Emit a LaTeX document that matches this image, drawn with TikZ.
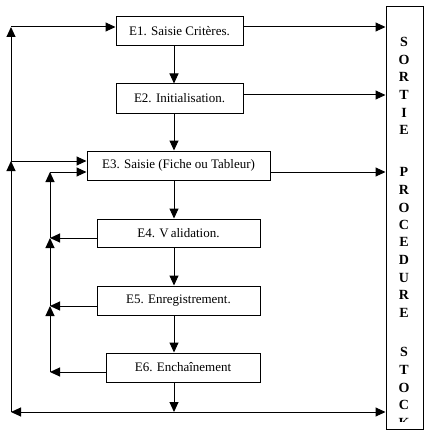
\documentclass[tikz,border=0pt]{standalone}
\usepackage{fontspec}
\setmainfont{Liberation Serif}
\usetikzlibrary{arrows.meta}
\begin{document}
\begin{tikzpicture}[x=1pt,y=-1pt, line width=1pt,
  >={Triangle[length=10pt,width=9pt]},
  box/.style={draw, minimum height=29pt, inner sep=0pt, font=\fontsize{13}{15}\selectfont},
  letter/.style={font=\bfseries\fontsize{14}{15}\selectfont, inner sep=0pt}]
\useasboundingbox (0,0) rectangle (441,441);
% boxes
\node[box, minimum width=127pt] (E1) at (179.5,31.5) {E1. Saisie Critères.};
\node[box, minimum width=127pt] (E2) at (179.5,98.5) {E2. Initialisation.};
\node[box, minimum width=183pt] (E3) at (178.5,165.5) {E3. Saisie (Fiche ou Tableur)};
\node[box, minimum width=163pt, minimum height=28pt] (E4) at (178.5,233) {E4. V\kern2pt alidation.};
\node[box, minimum width=163pt] (E5) at (178.5,300.5) {E5. Enregistrement.};
\node[box, minimum width=154pt] (E6) at (183,367.5) {E6. Enchaînement};
\node[draw, minimum width=37pt, minimum height=422pt, inner sep=0pt] (S) at (404.5,218) {};
% letters
\begin{scope}
\clip (386,7) rectangle (423,421.5);
\foreach \c/\y in {S/42,O/60,R/77,T/95,I/113,E/130,P/172,R/190,O/208,C/225,E/242,D/260,U/278,R/295,E/313,S/352,T/370,O/388,C/405,K/423}
  \node[letter] (l\y) at (404,\y) {\c};
\end{scope}
% coordinates
\coordinate (ax) at (174,0);
\coordinate (r1) at (0,27);
\coordinate (r2) at (0,95);
\coordinate (r3) at (0,172);
\coordinate (B) at (174,412);
\coordinate (L) at (11,412);
\coordinate (U) at (11,161);
\coordinate (T) at (11,27);
\coordinate (I3) at (50,172);
\coordinate (I4) at (50,238);
\coordinate (I5) at (50,306);
\coordinate (I6) at (50,372);
% main flow
\draw[->] (E1.south -| ax) -- (E2.north -| ax);
\draw[->] (E2.south -| ax) -- (E3.north -| ax);
\draw[->] (E3.south -| ax) -- (E4.north -| ax);
\draw[->] (E4.south -| ax) -- (E5.north -| ax);
\draw[->] (E5.south -| ax) -- (E6.north -| ax);
\draw[->] (E6.south -| ax) -- (B);
% outputs
\draw[->] (E1.east |- r1) -- (S.west |- r1);
\draw[->] (E2.east |- r2) -- (S.west |- r2);
\draw[->] (E3.east |- r3) -- (S.west |- r3);
\draw[->] (B) -- (S.west |- B);
% outer loop
\draw[->] (B) -- (L);
\draw[->] (L) -- (U);
\draw[->] (U) -- (T);
\draw[->] (T) -- (E1.west |- T);
\draw[->] (U) -- (E3.west |- U);
% inner loop
\draw[->] (E4.west |- I4) -- (I4);
\draw[->] (E5.west |- I5) -- (I5);
\draw[->] (E6.west |- I6) -- (I6);
\draw[->] (I6) -- (I5);
\draw[->] (I5) -- (I4);
\draw[->] (I4) -- (I3);
\draw[->] (I3) -- (E3.west |- I3);
\end{tikzpicture}
\end{document}
